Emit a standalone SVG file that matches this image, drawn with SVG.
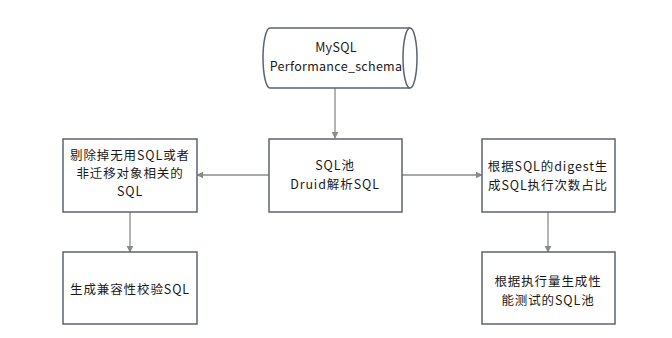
<svg xmlns="http://www.w3.org/2000/svg" width="672" height="338" viewBox="0 0 672 338">
<defs>
<style>
.box{fill:#fff;stroke:#5b6470;stroke-width:1.5}
.t{font-family:"Noto Sans CJK SC","Liberation Sans",sans-serif;font-size:12.5px;fill:#1a1a1a;text-anchor:middle;letter-spacing:0.9px}
.n{letter-spacing:0.3px}
.c{stroke:#8a8a8a;stroke-width:1.3;fill:none;marker-end:url(#ah)}
</style>
<marker id="ah" viewBox="0 0 10 10" refX="9" refY="5" markerWidth="7" markerHeight="7" orient="auto" markerUnits="userSpaceOnUse">
<path d="M0,0 L10,5 L0,10 z" fill="#8a8a8a"/>
</marker>
</defs>
<rect width="672" height="338" fill="#fff"/>
<g id="connectors">
<line class="c" x1="335" y1="88" x2="335" y2="138"/>
<line class="c" x1="269" y1="175" x2="197" y2="175"/>
<line class="c" x1="402" y1="175" x2="482" y2="175"/>
<line class="c" x1="130" y1="212" x2="130" y2="252"/>
<line class="c" x1="548" y1="212" x2="548" y2="252"/>
</g>
<g id="mysql">
<path class="box" d="M270,28 L410,28 A7,30 0 0 1 410,88 L270,88 A7,30 0 0 1 270,28 Z"/>
<path class="box" d="M410,28 A7,30 0 0 0 410,88" fill="none"/>
<text class="t n" x="336" y="52">MySQL</text>
<text class="t n" x="336" y="71">Performance_schema</text>
</g>
<g id="pool">
<rect class="box" x="269" y="139" width="133" height="73"/>
<text class="t" x="335" y="170">SQL池</text>
<text class="t" x="335" y="189">Druid解析SQL</text>
</g>
<g id="remove">
<rect class="box" x="63" y="139" width="134" height="73"/>
<text class="t" x="130" y="160">剔除掉无用SQL或者</text>
<text class="t" x="130" y="178">非迁移对象相关的</text>
<text class="t" x="130" y="196">SQL</text>
</g>
<g id="digest">
<rect class="box" x="482" y="139" width="133" height="73"/>
<text class="t" x="548" y="171">根据SQL的digest生</text>
<text class="t" x="548" y="190">成SQL执行次数占比</text>
</g>
<g id="compat">
<rect class="box" x="63" y="252" width="134" height="72"/>
<text class="t" x="130" y="294">生成兼容性校验SQL</text>
</g>
<g id="perf">
<rect class="box" x="482" y="252" width="133" height="72"/>
<text class="t" x="548" y="286">根据执行量生成性</text>
<text class="t" x="548" y="305">能测试的SQL池</text>
</g>
</svg>
